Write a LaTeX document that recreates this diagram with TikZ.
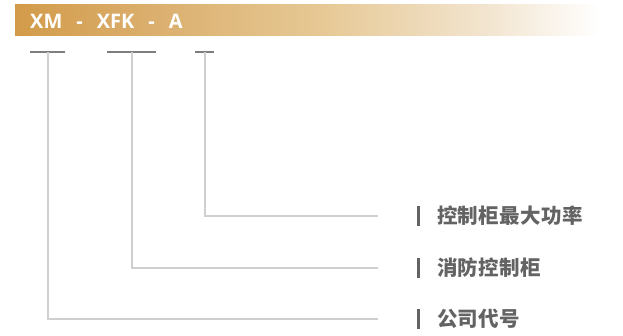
\documentclass[tikz,border=0pt]{standalone}
\usepackage{fontspec}
\setmainfont{Noto Sans CJK SC}
\newfontfamily\cjk[LetterSpace=1.5]{Noto Sans CJK SC}
\newfontfamily\latinfont{Open Sans}
\definecolor{gold}{HTML}{D29B4A}
\definecolor{goldmid}{HTML}{E6C894}
\definecolor{goldlight}{HTML}{F3E6D2}
\definecolor{stemgray}{HTML}{CFCFCF}
\definecolor{bargray}{HTML}{7E7E7E}
\definecolor{labelgray}{HTML}{636363}
\pgfdeclarehorizontalshading{bannershade}{100bp}{color(0bp)=(gold); color(25bp)=(gold); color(37bp)=(gold!80!white); color(51bp)=(goldmid); color(66bp)=(goldlight); color(75bp)=(white); color(100bp)=(white)}
\begin{document}
\begin{tikzpicture}[x=1pt,y=-1pt,
  tbar/.style={draw=bargray,line width=2.6pt},
  stem/.style={draw=stemgray,line width=1.4pt},
  labeltext/.style={anchor=west,inner sep=0pt,text=labelgray,font=\cjk\bfseries\fontsize{20.5}{24}\selectfont},
  labelbar/.style={fill=labelgray}]
\useasboundingbox (0,0) rectangle (623,335);
% banner
\shade[shading=bannershade] (15,4) rectangle (600,35);
\node (code) [anchor=west,inner sep=0pt,text=white,font=\latinfont\bfseries\fontsize{20}{24}\selectfont] at (30,21) {XM\hspace{14pt}-\hspace{14pt}XFK\hspace{14pt}-\hspace{14pt}A};
% T bars
\coordinate (t1) at (48,52);
\coordinate (t2) at (132,52);
\coordinate (t3) at (205,52);
\draw[tbar] (30,52) -- (65,52);
\draw[tbar] (107,52) -- (156,52);
\draw[tbar] (195,52) -- (214,52);
% ends
\coordinate (e1) at (378,216);
\coordinate (e2) at (378,268);
\coordinate (e3) at (378,319);
\draw[stem] (t3) |- (e1);
\draw[stem] (t2) |- (e2);
\draw[stem] (t1) |- (e3);
% labels
\fill[labelbar] (416.5,206) rectangle (419.5,226);
\fill[labelbar] (416.5,258) rectangle (419.5,278);
\fill[labelbar] (416.5,309) rectangle (419.5,329);
\node (l1) [labeltext] at (437,216) {控制柜最大功率};
\node (l2) [labeltext] at (437,268) {消防控制柜};
\node (l3) [labeltext] at (437,319) {公司代号};
\end{tikzpicture}
\end{document}
